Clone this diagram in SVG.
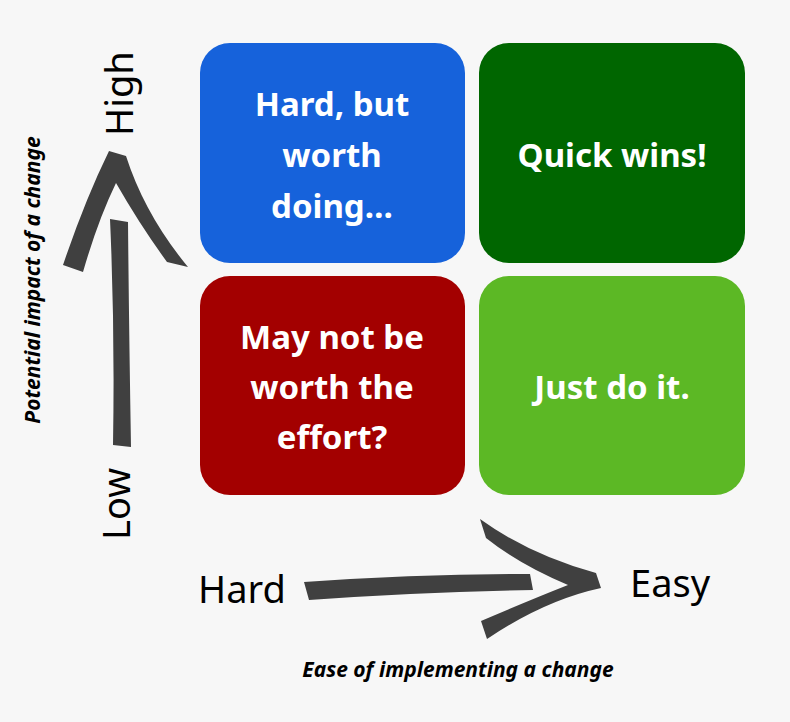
<svg xmlns="http://www.w3.org/2000/svg" width="790" height="722" viewBox="0 0 790 722">
<style>
.q{font-family:"Noto Sans","Open Sans",sans-serif;font-weight:bold;font-size:33px;fill:#fff;text-anchor:middle}
.l{font-family:"Noto Sans","Open Sans",sans-serif;font-size:38px;fill:#000}
.t{font-family:"Noto Sans","Open Sans",sans-serif;font-weight:bold;font-style:italic;font-size:21px;fill:#000;text-anchor:middle}
.a{fill:#404040}
</style>
<rect width="790" height="722" fill="#f7f7f7"/>
<g id="hard-worth"><rect x="200" y="43" width="265" height="220" rx="30" fill="#1662db"/>
<text class="q" x="332" y="116">Hard, but</text><text class="q" x="332" y="167">worth</text><text class="q" x="332" y="218">doing…</text></g>
<g id="quick-wins"><rect x="479" y="43" width="266" height="220" rx="30" fill="#006600"/>
<text class="q" x="612" y="167">Quick wins!</text></g>
<g id="not-worth"><rect x="200" y="276" width="265" height="219" rx="30" fill="#a30000"/>
<text class="q" x="332" y="349">May not be</text><text class="q" x="332" y="399">worth the</text><text class="q" x="332" y="449">effort?</text></g>
<g id="just-do"><rect x="479" y="276" width="266" height="219" rx="30" fill="#5cb825"/>
<text class="q" x="612" y="399">Just do it.</text></g>
<g id="connectors">
<path class="a" d="M110,219 L128,222 Q129,330 131,447 L113,445 Q115,330 110,219 Z"/>
<path class="a" d="M63,265 Q85,200 109,151 L126,156 Q145,215 188,267 L167,262 Q140,225 116,183 Q98,220 83,272 Z"/>
<path class="a" d="M304,582 Q420,574 530,574 L533,590 Q420,592 309,600 Z"/>
<path class="a" d="M480,519 Q530,555 596,573 L601,588 Q545,600 487,639 L481,621 Q530,600 568,585 Q520,565 486,538 Z"/>
</g>
<g id="labels">
<text class="l" x="198" y="603">Hard</text>
<text class="l" x="630" y="597">Easy</text>
<text class="l" transform="translate(133,136) rotate(-90)">High</text>
<text class="l" transform="translate(130,540) rotate(-90)">Low</text>
<text class="t" x="458" y="677">Ease of implementing a change</text>
<text class="t" transform="translate(40,280) rotate(-90)">Potential impact of a change</text>
</g>
</svg>
